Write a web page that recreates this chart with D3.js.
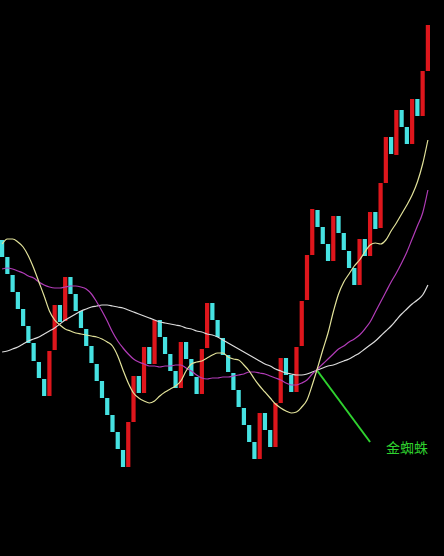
<!DOCTYPE html>
<html>
<head>
<meta charset="utf-8">
<script src="https://cdn.jsdelivr.net/npm/d3@7"></script>
<style>
  html, body { margin: 0; padding: 0; background: #000; }
  svg { display: block; }
</style>
</head>
<body>
<svg id="canvas" width="444" height="556"></svg>
<script>
// brick open / close, one per bar
const opens = [31.6,29.9,28.1,26.4,24.7,23.0,21.3,19.4,17.7,16.0,20.6,25.1,23.5,27.9,26.2,24.5,22.7,21.0,19.2,17.5,
  15.8,14.1,12.4,10.6,8.9,13.4,18.0,16.3,20.9,19.2,23.6,21.9,20.2,18.5,16.8,21.4,19.7,17.9,16.2,20.8,
  25.3,23.6,21.8,20.1,18.3,16.6,14.8,13.1,11.4,9.7,14.3,12.6,10.9,15.3,19.8,18.1,16.4,21.0,25.6,30.1,
  34.6,32.9,31.2,29.5,34.0,32.3,30.5,28.8,27.1,31.7,30.0,34.4,32.8,37.3,41.9,40.1,44.6,42.9,41.2,45.7,
  44.0,48.5]
const closes = [29.9,28.2,26.4,24.7,23.0,21.3,19.5,17.8,16.0,20.5,25.1,23.4,27.9,26.2,24.5,22.8,21.0,19.3,17.5,15.8,
  14.1,12.4,10.7,8.9,13.4,18.0,16.3,20.9,19.2,23.6,21.9,20.2,18.5,16.8,21.4,19.7,18.0,16.2,20.7,25.3,
  23.6,21.9,20.1,18.4,16.6,14.9,13.1,11.4,9.7,14.3,12.6,10.9,15.3,19.8,18.1,16.4,20.9,25.5,30.1,34.7,
  32.9,31.2,29.5,34.0,32.3,30.6,28.8,27.1,31.7,30.0,34.4,32.7,37.3,41.9,40.2,44.6,42.9,41.2,45.7,44.0,
  48.5,53.1]

// moving averages
const maShort = [31.2,31.7,31.7,31.4,30.9,30.0,28.8,27.4,26.0,24.5,23.6,23.1,22.7,22.5,22.3,22.2,22.1,22.0,21.9,21.7,
  21.4,21.0,20.0,18.6,17.3,16.3,15.8,15.5,15.3,15.5,16.0,16.4,16.7,17.0,17.5,18.5,19.2,19.4,19.5,19.8,
  20.1,20.3,20.3,19.9,19.7,19.6,19.1,18.5,17.7,17.0,16.4,15.8,15.2,14.8,14.5,14.3,14.4,14.9,15.6,17.1,
  18.8,20.6,22.3,24.4,26.2,27.4,28.2,29.0,29.6,30.4,31.1,31.3,31.2,31.6,32.5,33.3,34.2,35.1,36.1,37.4,
  39.2,41.6]
const maMid = [28.7,28.8,28.7,28.5,28.3,28.0,27.8,27.4,27.1,26.9,26.8,26.8,26.9,27.0,27.0,26.9,26.7,26.2,25.4,24.5,
  23.5,22.4,21.5,20.8,20.2,19.7,19.4,19.2,19.0,19.0,18.9,19.0,19.0,19.1,19.1,18.8,18.5,18.1,17.8,17.7,
  17.8,17.8,17.9,17.9,18.0,18.1,18.2,18.4,18.4,18.3,18.2,18.0,17.8,17.6,17.3,17.1,17.1,17.3,17.6,18.2,
  18.7,19.2,19.7,20.2,20.7,21.0,21.4,21.7,22.1,22.7,23.4,24.4,25.4,26.4,27.4,28.3,29.3,30.4,31.7,33.0,
  34.3,36.6]
const maLong = [20.4,20.5,20.7,20.9,21.2,21.5,21.7,21.9,22.2,22.5,22.8,23.2,23.6,23.9,24.2,24.5,24.7,24.9,25.0,25.1,
  25.1,25.0,24.9,24.8,24.6,24.4,24.2,24.0,23.8,23.6,23.4,23.3,23.2,23.1,23.0,22.8,22.7,22.5,22.4,22.2,
  22.1,21.9,21.6,21.3,21.0,20.7,20.4,20.1,19.8,19.5,19.2,19.0,18.7,18.5,18.3,18.2,18.1,18.1,18.2,18.4,
  18.6,18.8,19.0,19.1,19.3,19.5,19.7,20.0,20.3,20.7,21.1,21.5,22.0,22.5,23.0,23.6,24.2,24.7,25.2,25.6,
  26.1,27.1]

// annotation: arrow from the cross to the label
const noteFrom = [60, 18.5]
const noteTo = [70, 11.4]
const noteText = '金蜘蛛'

const width = 444, height = 556
const svg = d3.select('#canvas')

svg.append('rect').attr('width', width).attr('height', height).attr('fill', '#000')

const x = d3.scaleBand()
    .domain(d3.range(opens.length))
    .range([0, 430])
    .paddingInner(0.2)
    .paddingOuter(0)
const y = d3.scaleLinear().domain([0, 55.6]).range([height, 0])
const cx = i => x(i) + x.bandwidth() / 2

const bars = opens.map((o, i) => ({i: i, open: o, close: closes[i]}))

svg.append('g').selectAll('rect')
    .data(bars)
    .enter()
    .append('rect')
    .attr('x', d => x(d.i))
    .attr('width', x.bandwidth())
    .attr('y', d => y(Math.max(d.open, d.close)))
    .attr('height', d => Math.abs(y(d.open) - y(d.close)))
    .attr('fill', d => d.close > d.open ? '#de161c' : '#46e2e2')

const line = d3.line()
    .x((d, i) => cx(i))
    .y(d => y(d))
    .curve(d3.curveMonotoneX)

const lines = [
    {values: maLong, color: '#dcdcdc'},
    {values: maMid, color: '#b23cb8'},
    {values: maShort, color: '#e2e29a'}
]
svg.append('g').selectAll('path')
    .data(lines)
    .enter()
    .append('path')
    .attr('d', d => line(d.values))
    .attr('fill', 'none')
    .attr('stroke', d => d.color)
    .attr('stroke-width', 1.2)

// golden spider marker
svg.append('line')
    .attr('x1', cx(noteFrom[0]))
    .attr('y1', y(noteFrom[1]))
    .attr('x2', cx(noteTo[0]))
    .attr('y2', y(noteTo[1]))
    .attr('stroke', '#2fd22f')
    .attr('stroke-width', 2)

svg.append('text')
    .attr('x', cx(noteTo[0]) + 16)
    .attr('y', y(noteTo[1]) + 11)
    .attr('fill', '#2fd22f')
    .attr('font-family', '"Noto Sans CJK SC", "Noto Sans", sans-serif')
    .attr('font-size', 14)
    .text(noteText)
</script>
</body>
</html>
